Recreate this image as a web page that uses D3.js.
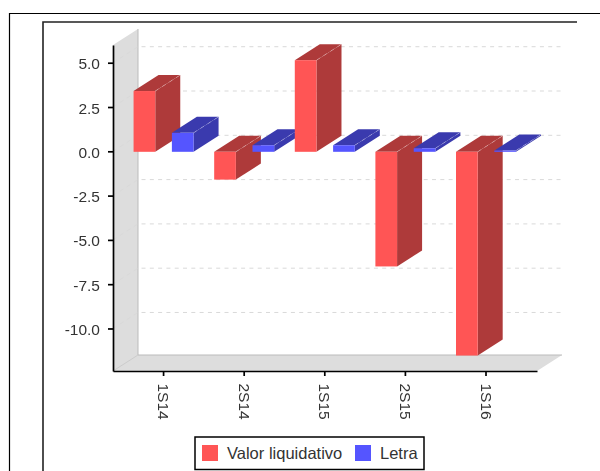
<!DOCTYPE html>
<html>
<head>
<meta charset="utf-8">
<script src="https://cdn.jsdelivr.net/npm/d3@7"></script>
<style>
html, body { margin: 0; padding: 0; background: #fff; overflow: hidden; }
svg { display: block; filter: blur(0.6px); }
text { font-family: "Liberation Sans", Arial, sans-serif; fill: #333; }
</style>
</head>
<body>
<div id="chart"></div>
<script>
var categories = ['1S14', '2S14', '1S15', '2S15', '1S16'];
var seriesNames = ['Valor liquidativo', 'Letra'];
var valorLiquidativo = [3.43, -1.57, 5.17, -6.47, -11.5];
var letra = [1.07, 0.37, 0.37, 0.2, 0.07];
var yTicks = [5, 2.5, 0, -2.5, -5, -7.5, -10];
var frontColors = ['#ff5555', '#5555ff'];
var sideColors = ['#ae3a3a', '#3a3aae'];

var width = 600, height = 471;
var depthX = 25, depthY = 16;
var plotLeft = 113, plotRight = 537, plotTop = 45, plotBottom = 371;

var svg = d3.select('#chart').append('svg')
    .attr('width', width)
    .attr('height', height);

// the two frames around the chart, cut off by the picture
svg.append('path')
    .attr('d', 'M9.5,471V13.5H600')
    .attr('fill', 'none')
    .attr('stroke', '#000')
    .attr('stroke-width', 1.2);
svg.append('path')
    .attr('d', 'M43,471V22H577')
    .attr('fill', 'none')
    .attr('stroke', '#222')
    .attr('stroke-width', 1.6);

var x = d3.scaleBand()
    .domain(categories)
    .range([plotLeft, plotRight])
    .paddingInner(0)
    .paddingOuter(0.13)
    .align(0.49);

var xInner = d3.scaleBand()
    .domain(seriesNames)
    .range([0, 60])
    .paddingInner(0.434)
    .paddingOuter(0);

var y = d3.scaleLinear()
    .domain([-12.4, 6])
    .range([plotBottom, plotTop]);

// walls
svg.append('path')
    .attr('d', 'M' + plotLeft + ',' + plotTop + 'L' + (plotLeft + depthX) + ',' + (plotTop - depthY) +
        'V' + (plotBottom - depthY) + 'H' + (plotRight + depthX) + 'L' + plotRight + ',' + plotBottom + 'H' + plotLeft + 'Z')
    .attr('fill', '#dddddd');
svg.append('path')
    .attr('d', 'M' + (plotLeft + depthX) + ',' + (plotTop - depthY) + 'V' + (plotBottom - depthY) + 'H' + (plotRight + depthX))
    .attr('fill', 'none')
    .attr('stroke', '#bbbbbb')
    .attr('stroke-width', 1);
svg.append('line')
    .attr('x1', plotLeft)
    .attr('y1', plotBottom)
    .attr('x2', plotLeft + depthX)
    .attr('y2', plotBottom - depthY)
    .attr('stroke', '#cccccc');

// gridlines on the back wall and their diagonals on the side wall
yTicks.forEach(function(t) {
    svg.append('path')
        .attr('d', 'M' + plotLeft + ',' + y(t) + 'L' + (plotLeft + depthX) + ',' + (y(t) - depthY) + 'H' + (plotRight + depthX - 1))
        .attr('fill', 'none')
        .attr('stroke', '#d9d9d9')
        .attr('stroke-width', 1)
        .attr('stroke-dasharray', '4,4.3');
});

function drawBar(cat, serie, value, s) {
    var x0 = x(cat) + x.bandwidth() / 2 - 30 + xInner(serie);
    var x1 = x0 + xInner.bandwidth();
    var yTop = y(Math.max(value, 0)) + 0.5;
    var yBot = y(Math.min(value, 0)) + 0.5;
    var g = svg.append('g').attr('class', 'bar');

    g.append('path')
        .attr('d', 'M' + x0 + ',' + yTop + 'l' + depthX + ',' + (-depthY) + 'H' + (x1 + depthX) + 'L' + x1 + ',' + yTop + 'Z')
        .attr('fill', sideColors[s]);
    g.append('path')
        .attr('d', 'M' + x1 + ',' + yTop + 'l' + depthX + ',' + (-depthY) + 'V' + (yBot - depthY) + 'L' + x1 + ',' + yBot + 'Z')
        .attr('fill', sideColors[s]);
    g.append('rect')
        .attr('x', x0)
        .attr('y', yTop)
        .attr('width', x1 - x0)
        .attr('height', yBot - yTop)
        .attr('fill', frontColors[s]);
    // light edge between top and side
    g.append('line')
        .attr('x1', x1)
        .attr('y1', yTop)
        .attr('x2', x1 + depthX)
        .attr('y2', yTop - depthY)
        .attr('stroke', '#fff')
        .attr('stroke-opacity', 0.4)
        .attr('stroke-width', 0.8)
        .attr('stroke-dasharray', '4,4.3');
}

categories.forEach(function(c, i) {
    drawBar(c, seriesNames[0], valorLiquidativo[i], 0);
    drawBar(c, seriesNames[1], letra[i], 1);
});

var yAxis = svg.append('g')
    .attr('transform', 'translate(' + plotLeft + ',0)')
    .call(d3.axisLeft(y)
        .tickValues(yTicks)
        .tickFormat(function(d) { return d.toFixed(1); })
        .tickSize(5)
        .tickSizeOuter(0)
        .tickPadding(8));
yAxis.selectAll('text')
    .attr('dy', '0.39em')
    .style('font-size', '15.5px');

var xAxis = svg.append('g')
    .attr('transform', 'translate(0,' + plotBottom + ')')
    .call(d3.axisBottom(x).tickSize(5).tickSizeOuter(0));
xAxis.selectAll('text')
    .attr('transform', 'rotate(90)')
    .attr('x', 12.5)
    .attr('y', 0)
    .attr('dy', '0.35em')
    .attr('text-anchor', 'start')
    .style('font-size', '15.5px');
svg.selectAll('.domain, .tick line')
    .attr('stroke', '#000')
    .attr('stroke-width', 1.7);

// legend
var legend = svg.append('g');
legend.append('rect')
    .attr('x', 195)
    .attr('y', 437)
    .attr('width', 229)
    .attr('height', 32.5)
    .attr('fill', '#fff')
    .attr('stroke', '#000')
    .attr('stroke-width', 1.5);
var legendSwatchX = [202, 355];
var legendTextX = [227, 380];
seriesNames.forEach(function(n, i) {
    legend.append('rect')
        .attr('x', legendSwatchX[i])
        .attr('y', 445)
        .attr('width', 16)
        .attr('height', 16)
        .attr('fill', frontColors[i]);
    legend.append('text')
        .attr('x', legendTextX[i])
        .attr('y', 458.5)
        .style('font-size', '16.5px')
        .text(n);
});
</script>
</body>
</html>
